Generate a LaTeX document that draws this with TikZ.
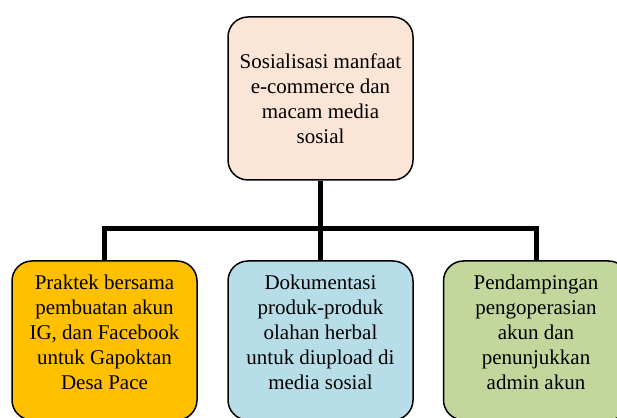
\documentclass[tikz,border=0pt]{standalone}
\usepackage{fontspec}
\setmainfont{Liberation Serif}
\usetikzlibrary{positioning}

\definecolor{peach}{HTML}{FBE5D6}
\definecolor{kuning}{HTML}{FFC000}
\definecolor{birumuda}{HTML}{B7DEE8}
\definecolor{hijaumuda}{HTML}{C3D69B}

\tikzset{
  kotak/.style={draw=black, line width=1.5pt, rounded corners=20pt,
    minimum width=185pt},
  isi/.style={align=center, font=\fontsize{21}{25}\selectfont},
  garis/.style={line width=5pt}
}

\begin{document}
\begin{tikzpicture}[x=1pt, y=1pt]
  \useasboundingbox (0,0) rectangle (617,417);
  \clip (0,0) rectangle (617,417);

  % kotak atas
  \node[kotak, fill=peach, minimum height=163pt] (sosialisasi) at (320.5,318.5) {};
  \node[isi] (sosialisasiteks) at (sosialisasi.center)
    {Sosialisasi manfaat\\ e-commerce dan\\ macam media\\ sosial};

  % kotak bawah
  \node[kotak, fill=kuning, minimum height=159pt] (praktek) at (104.5,76.5) {};
  \node[kotak, fill=birumuda, minimum height=159pt] (dokumentasi) at (320.5,76.5) {};
  \node[kotak, fill=hijaumuda, minimum height=159pt] (pendampingan) at (536,76.5) {};

  \node[isi] (praktekteks) at ([yshift=8pt]praktek.center)
    {Praktek bersama\\ pembuatan akun\\ IG, dan Facebook\\ untuk Gapoktan\\ Desa Pace};
  \node[isi] (dokumentasiteks) at ([yshift=8pt]dokumentasi.center)
    {Dokumentasi\\ produk-produk\\ olahan herbal\\ untuk diupload di\\ media sosial};
  \node[isi] (pendampinganteks) at ([yshift=8pt]pendampingan.center)
    {Pendampingan\\ pengoperasian\\ akun dan\\ penunjukkan\\ admin akun};

  % garis penghubung
  \coordinate (cabang) at (320.5,188);
  \draw[garis] (sosialisasi.south) -- (dokumentasi.north);
  \draw[garis] (praktek.north) |- (cabang) -| (pendampingan.north);

\end{tikzpicture}
\end{document}
